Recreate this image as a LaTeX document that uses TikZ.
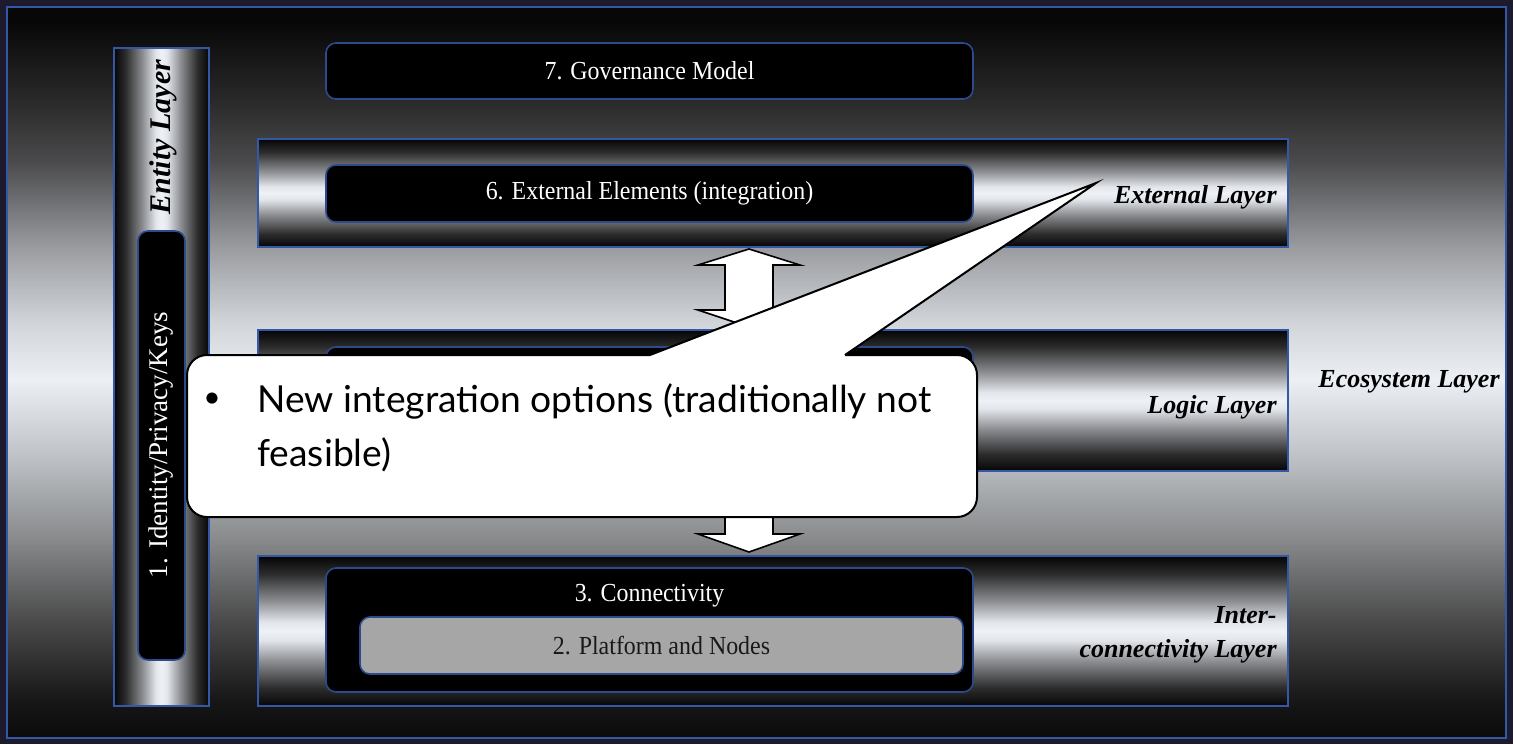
\documentclass[tikz,border=0pt]{standalone}
\usepackage{fontspec}
\usepackage{graphicx}
\setmainfont{Liberation Serif}
\newfontfamily\calloutfont{Lato}

% palette
\definecolor{outerbg}{HTML}{1B1B2D}
\definecolor{edgeblue}{HTML}{3558A6}
\definecolor{boxblue}{HTML}{2C4A8C}
\definecolor{platgray}{HTML}{A6A6A6}
% background fade of the main panel
\definecolor{pf0}{HTML}{0A0A0A}
\definecolor{pf1}{HTML}{161616}
\definecolor{pf2}{HTML}{4A4A4A}
\definecolor{pf3}{HTML}{8C8E90}
\definecolor{pf4}{HTML}{C0C4C8}
\definecolor{pf5}{HTML}{ECEFF4}
\definecolor{pf6}{HTML}{D0D4D8}
\definecolor{pf7}{HTML}{9A9CA0}
\definecolor{pf8}{HTML}{4A4A4C}
\definecolor{pf9}{HTML}{2A2A2A}
\definecolor{pf10}{HTML}{070707}
% brushed-metal bands
\definecolor{m0}{HTML}{050505}
\definecolor{m1}{HTML}{2C2C2C}
\definecolor{m2}{HTML}{8C8E92}
\definecolor{m3}{HTML}{E2E5EA}
\definecolor{m4}{HTML}{EEF1F6}

\pgfdeclareverticalshading{panelfade}{100bp}{color(0bp)=(pf0); color(25bp)=(pf0);
  color(27.5bp)=(pf1); color(33bp)=(pf2); color(39bp)=(pf3); color(44.5bp)=(pf4);
  color(49.5bp)=(pf5); color(53.5bp)=(pf6); color(58.5bp)=(pf7); color(64.5bp)=(pf8);
  color(68.5bp)=(pf9); color(74bp)=(pf10); color(100bp)=(pf10)}
\pgfdeclareverticalshading{metalv}{100bp}{color(0bp)=(m0); color(25bp)=(m0);
  color(31bp)=(m1); color(40bp)=(m2); color(47bp)=(m3); color(50bp)=(m4);
  color(53bp)=(m3); color(60bp)=(m2); color(69bp)=(m1); color(75bp)=(m0); color(100bp)=(m0)}
\pgfdeclarehorizontalshading{metalh}{100bp}{color(0bp)=(m0); color(25bp)=(m0);
  color(31bp)=(m1); color(40bp)=(m2); color(47bp)=(m3); color(50bp)=(m4);
  color(53bp)=(m3); color(60bp)=(m2); color(69bp)=(m1); color(75bp)=(m0); color(100bp)=(m0)}

\newcommand\plaintext[1]{\scalebox{0.92}[1]{#1}}

\begin{document}
\begin{tikzpicture}[x=0.5pt, y=-0.5pt,
  panelbox/.style={shade, shading=panelfade, draw=edgeblue, line width=1pt, inner sep=0pt},
  bandh/.style={shade, shading=metalv, draw=edgeblue, line width=1pt, inner sep=0pt},
  bandv/.style={shade, shading=metalh, draw=edgeblue, line width=1pt, inner sep=0pt},
  innerbox/.style={fill=black, draw=boxblue, line width=0.8pt, rounded corners=5pt,
    inner sep=0pt, text=white, font=\fontsize{13}{15}\selectfont},
  greybox/.style={fill=platgray, draw=boxblue, line width=0.8pt, rounded corners=5pt,
    inner sep=0pt, text=black!90, font=\fontsize{13}{15}\selectfont},
  layerlabel/.style={inner sep=0pt, text=black, font=\fontsize{13}{15}\selectfont\bfseries\itshape},
  blockarrow/.style={fill=white, draw=black, line width=0.8pt, line join=miter},
  callbody/.style={fill=white, draw=black, line width=1pt, rounded corners=10pt, inner sep=0pt},
  callfont/.style={inner sep=0pt, text=black, font=\calloutfont\fontsize{18.6}{22}\selectfont}
]
\useasboundingbox (0,0) rectangle (1513,744);
\fill[outerbg] (0,0) rectangle (1513,744);

% main panel
\node[panelbox, minimum width=749.5pt, minimum height=365.5pt] (panel) at (756.5,372.5) {};

% horizontal layer bands
\node[bandh, minimum width=515pt, minimum height=54pt]   (extband)   at (773,193) {};
\node[bandh, minimum width=515pt, minimum height=70.5pt] (logicband) at (773,400.5) {};
\node[bandh, minimum width=515pt, minimum height=75pt]   (interband) at (773,631) {};

% vertical entity column
\node[bandv, minimum width=47.5pt, minimum height=329pt] (entity) at (161.5,377) {};
\node[innerbox, minimum width=23.5pt, minimum height=214.5pt] (idbox) at (161.5,445.5) {};
\node[inner sep=0pt, text=white, rotate=90, font=\fontsize{13.5}{16}\selectfont] (idtext) at (161,445) {1. Identity/Privacy/Keys};
\node[layerlabel, rotate=90, font=\fontsize{15}{17}\selectfont\bfseries\itshape] (entlbl) at (163,137) {Entity Layer};

% numbered building blocks
\node[innerbox, minimum width=323.5pt, minimum height=28pt]   (gov)   at (649.5,71)    {\plaintext{7. Governance Model}};
\node[innerbox, minimum width=323.5pt, minimum height=28.5pt] (extel) at (649.5,193.5) {\plaintext{6. External Elements (integration)}};
\node[innerbox, minimum width=323.5pt, minimum height=54pt]   (logicbox) at (649.5,401) {};
\node[innerbox, minimum width=323.5pt, minimum height=62pt]   (conn)  at (649.5,630)   {};
\node[innerbox, draw=none, fill=none, anchor=base] (conntext) at (649.5,601) {\plaintext{3. Connectivity}};
\node[greybox, minimum width=301.5pt, minimum height=28.5pt] (plat) at (661.5,645.5) {\plaintext{2. Platform and Nodes}};

% layer names
\node[layerlabel, anchor=base east] (extlbl)   at (1277,203) {External Layer};
\node[layerlabel, anchor=base east] (logiclbl) at (1277,413) {Logic Layer};
\node[layerlabel, anchor=base east] (interlbl) at (1277,623) {Inter-};
\node[layerlabel, anchor=base east] (connlbl)  at (1277,657) {connectivity Layer};
\node[layerlabel, anchor=base] (ecolbl) at (1409,387) {Ecosystem Layer};

% block arrows between the bands
\coordinate (upA) at (749,249);
\coordinate (upB) at (749,474);
\draw[blockarrow] (upA) -- ++(51,16) -- ++(-27,0) -- ++(0,45) -- ++(27,0) -- ++(-51,17)
  -- ++(-51,-17) -- ++(27,0) -- ++(0,-45) -- ++(-27,0) -- cycle;
\draw[blockarrow] (upB) -- ++(51,16) -- ++(-27,0) -- ++(0,44) -- ++(27,0) -- ++(-51,18)
  -- ++(-51,-18) -- ++(27,0) -- ++(0,-44) -- ++(-27,0) -- cycle;

% callout
\node[callbody, minimum width=395pt, minimum height=81pt] (call) at (582,436) {};
\coordinate (calltip) at (1096,183);
\coordinate (callL) at (650,355);
\coordinate (callR) at (845,355);
\fill[white] (callL) -- (calltip) -- (callR) -- ++(0,3.5) -- (650,358.5) -- cycle;
\draw[black, line width=1pt, line join=miter] (callL) -- (calltip) -- (callR);
\node[callfont, font=\calloutfont\fontsize{15}{18}\selectfont] (bullet) at (212,400) {\textbullet};
\node[callfont, anchor=base west] (callA) at (257,412) {New integration options (traditionally not};
\node[callfont, anchor=base west] (callB) at (257,466) {feasible)};
\end{tikzpicture}
\end{document}
